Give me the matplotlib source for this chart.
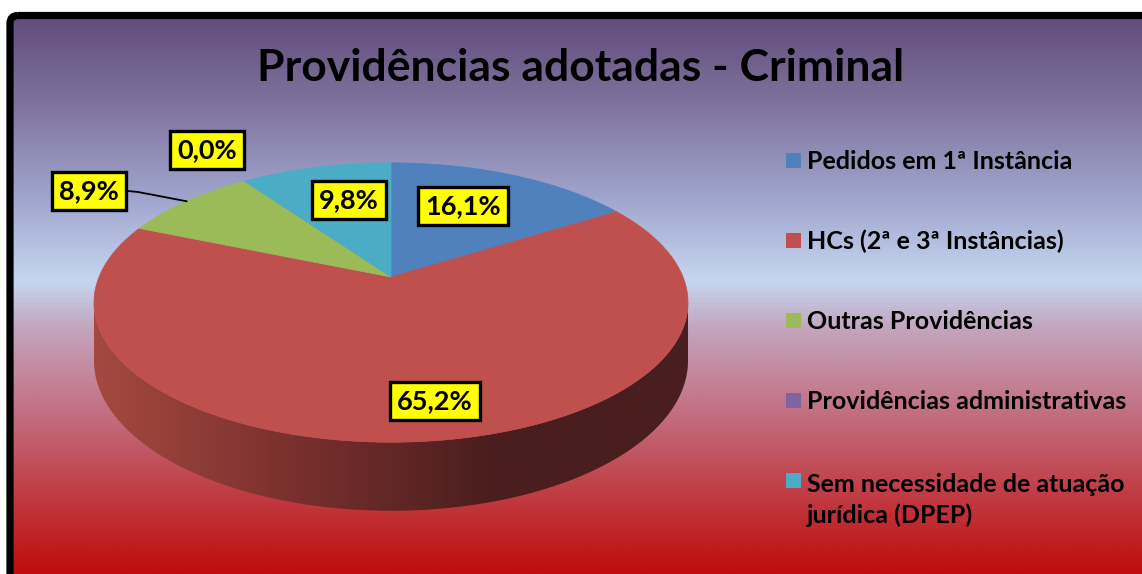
import numpy as np
import matplotlib.pyplot as plt
from matplotlib.patches import Polygon, FancyBboxPatch, Rectangle
from matplotlib.colors import LinearSegmentedColormap

# data
categories = ['Pedidos em 1ª Instância', 'HCs (2ª e 3ª Instâncias)', 'Outras Providências',
              'Providências administrativas', 'Sem necessidade de atuação\njurídica (DPEP)']
values = [16.1, 65.2, 8.9, 0.0, 9.8]
colors = ['#4F81BD', '#C0504D', '#9BBB59', '#8064A2', '#4BACC6']
title = 'Providências adotadas - Criminal'

# label anchor positions (pixels), leader line only for the 8,9% label
label_pos = [(463, 206), (435, 401), (89, 191), (207, 150), (349, 200)]

FONT = ['Lato', 'DejaVu Sans']
plt.rcParams['font.family'] = FONT

W, H = 1142, 574
fig = plt.figure(figsize=(W / 100, H / 100), dpi=100, facecolor='white')
ax = fig.add_axes([0, 0, 1, 1])
ax.axis('off')

# background gradient inside the frame
stops = [(19, '#624C7C'), (100, '#7D709B'), (200, '#A0A5CD'), (283, '#C6D6F0'),
         (330, '#C3A5BE'), (400, '#C3788C'), (480, '#C04650'), (574, '#C00C0C')]
ys = np.array([s[0] for s in stops], float)
cmap = LinearSegmentedColormap.from_list('bg', [((y - ys[0]) / (ys[-1] - ys[0]), c) for y, c in stops])
grad = np.linspace(0, 1, 400).reshape(-1, 1)
frame = FancyBboxPatch((10, 15.5), W + 20, H + 20, boxstyle='round,pad=0,rounding_size=8',
                       fc='none', ec='black', lw=5.2, zorder=10)
ax.add_patch(frame)
bg = ax.imshow(grad, cmap=cmap, aspect='auto', extent=(10, W, H, 15.5), zorder=0)
bg.set_clip_path(frame)

# 3D pie geometry (simple perspective projection)
cx, cy = 391, 277
A, B, k = 292, 135, 0.183
D = 56


def project(theta, drop=0.0):
    X = np.cos(theta)
    Z = np.sin(theta)
    w = 1 + k * Z
    return cx + A * X / w, cy - B * Z / w + drop / w


# side wall (front half)
ts = np.arcsin(k)
th = np.linspace(np.pi + ts, 2 * np.pi - ts, 300)
tx, ty = project(th)
bx, by = project(th[::-1], D)
side = Polygon(np.column_stack([np.r_[tx, bx], np.r_[ty, by]]), closed=True, fc='none', ec='none')
ax.add_patch(side)
side_cmap = LinearSegmentedColormap.from_list('side', ['#A5493F', '#7A302E', '#4A1E1E', '#4A1E1E'])
sg = ax.imshow(np.linspace(0, 1, 300).reshape(1, -1), cmap=side_cmap, aspect='auto',
               extent=(cx - A * 1.02, cx + A * 1.02, cy + 280, cy - 50), zorder=2)
sg.set_clip_path(side)

# top face slices, starting at 12 o'clock, clockwise
start = np.pi / 2
mids = []
for v, c in zip(values, colors):
    sweep = 2 * np.pi * v / sum(values)
    mids.append(start - sweep / 2)
    if v > 0:
        t = np.linspace(start, start - sweep, 200)
        px, py = project(t)
        ax.add_patch(Polygon(np.column_stack([np.r_[cx, px], np.r_[cy, py]]), closed=True,
                             fc=c, ec=c, lw=0.5, zorder=3))
    start -= sweep

# data labels
for i, (v, (lx, ly)) in enumerate(zip(values, label_pos)):
    s = f'{v:.1f}%'.replace('.', ',')
    ax.text(lx, ly, s, ha='center', va='center', fontsize=19.5, fontweight='bold', color='black',
            zorder=6, bbox=dict(boxstyle='square,pad=0.26', fc='#FFFF00', ec='black', lw=2.4))

# leader line for the outer label
ex, ey = project(mids[2])
ax.plot([128, 138, ex], [191, 192, ey], color='black', lw=1.3, zorder=5)

# title
ax.text(581, 81, title, ha='center', va='baseline', fontsize=32, fontweight='bold', color='black', zorder=6)

# legend
for i, (name, c) in enumerate(zip(categories, colors)):
    base = 169 + 80 * i
    nl = name.count('\n')
    ax.add_patch(Rectangle((786, base - 16), 15, 15, fc=c, ec='none', zorder=6))
    ax.text(807, base + 34 * nl, name, ha='left', va='baseline', fontsize=18, fontweight='bold',
            color='black', linespacing=1.36, zorder=6)

ax.set_xlim(0, W)
ax.set_ylim(H, 0)
fig.savefig('out.png', dpi=100, facecolor='white')
